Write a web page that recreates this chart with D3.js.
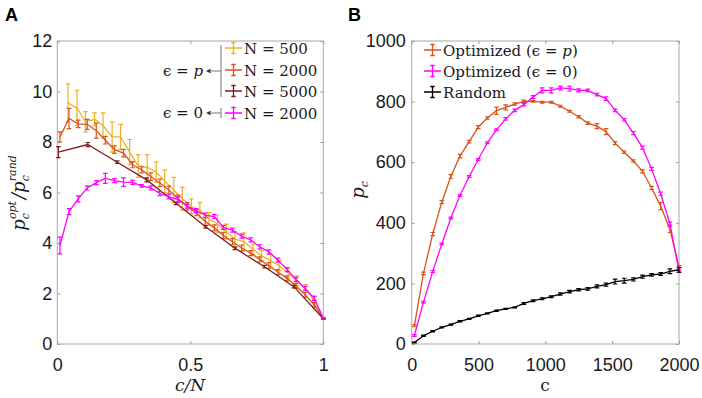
<!DOCTYPE html>
<html>
<head>
<meta charset="utf-8">
<script src="https://cdn.jsdelivr.net/npm/d3@7"></script>
<style>
body { margin: 0; background: #fff; }
</style>
</head>
<body>
<div id="chart-area"></div>
<script>
// c values for each system size
var c500 = [20, 37, 53, 70, 86, 103, 119, 136, 152, 169, 186, 202, 219, 235, 252, 268, 285, 301, 318, 334, 351, 368, 384, 401, 417, 434, 450, 467, 483, 500];
var c2000 = [20, 88, 157, 225, 293, 361, 430, 498, 566, 634, 703, 771, 839, 908, 976, 1044, 1112, 1181, 1249, 1317, 1386, 1454, 1522, 1590, 1659, 1727, 1795, 1863, 1932, 2000];
var c5000 = [20, 573, 1127, 1680, 2233, 2787, 3340, 3893, 4447, 5000];

// panel A: p_c^opt / p_c^rand
var ratio500 = [9.55, 9.35, 8.8, 8.9, 8.65, 8.2, 8.2, 7.6, 7.05, 7.0, 6.8, 6.45, 6.1, 5.75, 5.45, 5.3, 4.95, 4.75, 4.45, 4.15, 4.05, 3.75, 3.5, 3.3, 3.1, 2.8, 2.5, 2.2, 1.7, 1.0];
var err500 = [0.75, 0.7, 0.4, 0.25, 0.5, 0.6, 0.5, 0.5, 0.45, 0.5, 0.4, 0.45, 0.5, 0.45, 0.3, 0.3, 0.25, 0.35, 0.3, 0.3, 0.35, 0.2, 0.2, 0.25, 0.2, 0.2, 0.2, 0.15, 0.2, 0.02];
var ratio2000 = [8.2, 8.93, 8.72, 8.7, 8.45, 8.07, 7.7, 7.56, 7.1, 6.9, 6.63, 6.38, 6.1, 5.75, 5.45, 5.2, 4.85, 4.6, 4.3, 4.05, 3.8, 3.6, 3.35, 3.1, 2.85, 2.6, 2.3, 1.95, 1.55, 1.0];
var err2000 = [0.2, 0.4, 0.15, 0.2, 0.3, 0.15, 0.15, 0.15, 0.12, 0.12, 0.15, 0.15, 0.15, 0.15, 0.15, 0.12, 0.15, 0.12, 0.12, 0.12, 0.12, 0.1, 0.1, 0.12, 0.1, 0.1, 0.1, 0.1, 0.1, 0.02];
var ratio5000 = [7.6, 7.9, 7.2, 6.5, 5.57, 4.64, 3.79, 3.06, 2.27, 1.0];
var err5000 = [0.22, 0.08, 0.05, 0.08, 0.05, 0.05, 0.05, 0.05, 0.05, 0.02];
var ratioEps0 = [3.9, 5.24, 5.75, 6.18, 6.39, 6.56, 6.47, 6.41, 6.4, 6.26, 6.18, 5.96, 5.83, 5.73, 5.46, 5.28, 5.1, 5.05, 4.62, 4.51, 4.27, 4.12, 3.85, 3.65, 3.32, 2.95, 2.56, 2.2, 1.81, 1.02];
var errEps0 = [0.33, 0.12, 0.12, 0.08, 0.08, 0.2, 0.08, 0.17, 0.08, 0.05, 0.08, 0.08, 0.08, 0.1, 0.08, 0.08, 0.08, 0.08, 0.08, 0.08, 0.08, 0.08, 0.08, 0.08, 0.08, 0.08, 0.08, 0.08, 0.08, 0.03];

// panel B: p_c vs c (N = 2000)
var pcOptP = [60, 233, 363, 468, 553, 620, 668, 716, 746, 770, 781, 792, 801, 801, 798, 798, 785, 768, 750, 729, 719, 701, 663, 633, 604, 570, 515, 455, 378, 255];
var errOptP = [3, 4, 5, 5, 6, 6, 4, 5, 4, 12, 8, 4, 4, 3, 3, 3, 3, 3, 4, 4, 8, 10, 5, 4, 4, 5, 5, 12, 10, 4];
var pcOpt0 = [28, 138, 239, 330, 416, 490, 553, 609, 664, 707, 743, 771, 790, 815, 837, 837, 845, 843, 837, 837, 823, 810, 771, 740, 696, 648, 578, 496, 397, 240];
var errOpt0 = [3, 3, 3, 3, 3, 3, 3, 3, 3, 3, 4, 4, 4, 5, 8, 8, 6, 8, 5, 4, 4, 6, 4, 4, 5, 5, 5, 5, 5, 4];
var pcRand = [5, 27, 42, 55, 64, 75, 83, 93, 101, 110, 116, 121, 134, 143, 149, 156, 165, 173, 179, 182, 190, 196, 206, 209, 213, 222, 228, 231, 240, 245];
var errRand = [1, 2, 2, 2, 2, 2, 2, 2, 2, 2, 2, 2, 3, 3, 3, 3, 4, 4, 4, 4, 5, 5, 8, 8, 5, 5, 4, 5, 8, 8];

var ticksAx = [0, 0.5, 1];
var ticksAy = [0, 2, 4, 6, 8, 10, 12];
var ticksBx = [0, 500, 1000, 1500, 2000];
var ticksBy = [0, 200, 400, 600, 800, 1000];

var legendA = ["N = 500", "N = 2000", "N = 5000", "N = 2000"];
var legendB = ["Optimized (ϵ = p)", "Optimized (ϵ = 0)", "Random"];

var yellow = "#edb120", orange = "#d95319", maroon = "#7f1d1d", magenta = "#ff00ff";

var svg = d3.select("#chart-area")
    .append("svg")
        .attr("width", 702)
        .attr("height", 398);

var plotTop = 41, plotBottom = 344;
var h = plotBottom - plotTop;

var gA = svg.append("g").attr("transform", "translate(57.3," + plotTop + ")");
var gB = svg.append("g").attr("transform", "translate(411.7," + plotTop + ")");
var wA = 266, wB = 267.3;

var xA = d3.scaleLinear().domain([0, 1]).range([0, wA]);
var yA = d3.scaleLinear().domain([0, 12]).range([h, 0]);
var xB = d3.scaleLinear().domain([0, 2000]).range([0, wB]);
var yB = d3.scaleLinear().domain([0, 1000]).range([h, 0]);

function drawAxes(g, x, y, xt, yt, w, pad) {
    g.append("g").attr("transform", "translate(0," + h + ")")
        .call(d3.axisBottom(x).tickValues(xt).tickSizeInner(-3).tickSizeOuter(0).tickPadding(14).tickFormat(d3.format("")));
    g.append("g")
        .call(d3.axisTop(x).tickValues(xt).tickSizeInner(-3).tickSizeOuter(0).tickFormat(""));
    g.append("g")
        .call(d3.axisLeft(y).tickValues(yt).tickSizeInner(-3).tickSizeOuter(0).tickPadding(pad).tickFormat(d3.format("")));
    g.append("g").attr("transform", "translate(" + w + ",0)")
        .call(d3.axisRight(y).tickValues(yt).tickSizeInner(-3).tickSizeOuter(0).tickFormat(""));
    g.selectAll(".domain").remove();
    g.selectAll(".tick line").attr("stroke", "#999");
    g.selectAll(".tick text")
        .attr("font-family", "Liberation Sans, Arial, sans-serif")
        .attr("font-size", "18px")
        .attr("fill", "#1a1a1a");
    g.append("rect")
        .attr("width", w).attr("height", h)
        .attr("fill", "none")
        .attr("stroke", "#a8a8a8");
}

drawAxes(gA, xA, yA, ticksAx, ticksAy, wA, 5);
drawAxes(gB, xB, yB, ticksBx, ticksBy, wB, 6);

function series(g, x, y, xs, ys, es, color) {
    var pts = xs.map((d, i) => { return {x: d, y: ys[i], e: es[i]}; });
    var line = d3.line().x((d) => x(d.x)).y((d) => y(d.y));
    g.append("path").datum(pts)
        .attr("d", line)
        .attr("fill", "none")
        .attr("stroke", color)
        .attr("stroke-width", 1.3);
    var bars = g.append("g").attr("stroke", color).attr("stroke-width", 1.2);
    bars.selectAll(".eb").data(pts).enter().append("path")
        .attr("d", (d) => {
            var cx = x(d.x), y0 = y(d.y - d.e), y1 = y(d.y + d.e);
            return "M" + cx + "," + y0 + "V" + y1 +
                "M" + (cx - 2.3) + "," + y0 + "H" + (cx + 2.3) +
                "M" + (cx - 2.3) + "," + y1 + "H" + (cx + 2.3);
        })
        .attr("fill", "none");
}

series(gA, xA, yA, c500.map((c) => c / 500), ratio500, err500, yellow);
series(gA, xA, yA, c2000.map((c) => c / 2000), ratio2000, err2000, orange);
series(gA, xA, yA, c5000.map((c) => c / 5000), ratio5000, err5000, maroon);
series(gA, xA, yA, c2000.map((c) => c / 2000), ratioEps0, errEps0, magenta);

series(gB, xB, yB, c2000, pcOptP, errOptP, orange);
series(gB, xB, yB, c2000, pcOpt0, errOpt0, magenta);
series(gB, xB, yB, c2000, pcRand, errRand, "#000");

// serif text with italic math letters
function mathText(sel, str) {
    str.split(/(ϵ|p(?=\)|$))/).forEach((s) => {
        if (!s) return;
        var t = sel.append("tspan").text(s);
        if (s === "p") t.attr("font-style", "italic");
    });
}

function legendItem(x0, yy, color) {
    svg.append("path")
        .attr("d", "M" + x0 + "," + yy + "H" + (x0 + 17) +
            "M" + (x0 + 8.5) + "," + (yy - 5.5) + "V" + (yy + 5.5) +
            "M" + (x0 + 6.3) + "," + (yy - 5.5) + "H" + (x0 + 10.7) +
            "M" + (x0 + 6.3) + "," + (yy + 5.5) + "H" + (x0 + 10.7))
        .attr("fill", "none")
        .attr("stroke", color)
        .attr("stroke-width", 1.3);
}

var serif = "DejaVu Serif, serif";

// legend A
var rowsA = [48, 70, 91, 113];
var colA = [yellow, orange, maroon, magenta];
legendA.forEach((s, i) => {
    legendItem(225, rowsA[i], colA[i]);
    svg.append("text")
        .attr("x", 244).attr("y", rowsA[i] + 5.5)
        .attr("font-family", serif).attr("font-size", "15px").attr("fill", "#1a1a1a")
        .text(s);
});

svg.append("path").attr("d", "M221,45V97M221,108V118M209,71H221M209,113H221")
    .attr("stroke", "#777").attr("fill", "none").attr("stroke-width", 1);
svg.append("path").attr("d", "M206,71L211,68.5L210,71L211,73.5ZM206,113L211,110.5L210,113L211,115.5Z")
    .attr("fill", "#333");
[["ϵ = p", 71], ["ϵ = 0", 113]].forEach((d) => {
    var t = svg.append("text")
        .attr("x", 203).attr("y", d[1] + 5)
        .attr("text-anchor", "end")
        .attr("font-family", serif).attr("font-size", "15px").attr("fill", "#1a1a1a");
    mathText(t, d[0]);
});

// legend B
var rowsB = [50, 71, 92];
var colB = [orange, magenta, "#000"];
legendB.forEach((s, i) => {
    legendItem(424, rowsB[i], colB[i]);
    var t = svg.append("text")
        .attr("x", 443).attr("y", rowsB[i] + 5.5)
        .attr("font-family", serif).attr("font-size", "15px").attr("fill", "#1a1a1a");
    mathText(t, s);
});

// panel letters
svg.append("text").attr("x", 5).attr("y", 21)
    .attr("font-family", "Liberation Sans, Arial, sans-serif").attr("font-weight", "bold")
    .attr("font-size", "18px").text("A");
svg.append("text").attr("x", 348).attr("y", 21)
    .attr("font-family", "Liberation Sans, Arial, sans-serif").attr("font-weight", "bold")
    .attr("font-size", "18px").text("B");

// axis labels
svg.append("text").attr("x", 190).attr("y", 391)
    .attr("text-anchor", "middle").attr("font-family", serif).attr("font-size", "17px")
    .attr("font-style", "italic").attr("fill", "#1a1a1a")
    .text("c/N");
svg.append("text").attr("x", 545).attr("y", 391)
    .attr("text-anchor", "middle").attr("font-family", serif).attr("font-size", "17px")
    .attr("fill", "#1a1a1a")
    .text("c");

var ylA = svg.append("text")
    .attr("transform", "translate(25,193) rotate(-90)")
    .attr("text-anchor", "middle").attr("font-family", serif).attr("font-size", "18px")
    .attr("font-style", "italic").attr("fill", "#1a1a1a");
ylA.append("tspan").text("p");
ylA.append("tspan").attr("dy", 4).attr("font-size", "11px").text("c");
ylA.append("tspan").attr("dx", -6).attr("dy", -13).attr("font-size", "11px").text("opt");
ylA.append("tspan").attr("dy", 9).attr("dx", 2).text("/");
ylA.append("tspan").text("p");
ylA.append("tspan").attr("dy", 4).attr("font-size", "11px").text("c");
ylA.append("tspan").attr("dx", -6).attr("dy", -13).attr("font-size", "11px").text("rand");

var ylB = svg.append("text")
    .attr("transform", "translate(364,190) rotate(-90)")
    .attr("text-anchor", "middle").attr("font-family", serif).attr("font-size", "18px")
    .attr("font-style", "italic").attr("fill", "#1a1a1a");
ylB.append("tspan").text("p");
ylB.append("tspan").attr("dy", 4).attr("font-size", "11px").text("c");
</script>
</body>
</html>
